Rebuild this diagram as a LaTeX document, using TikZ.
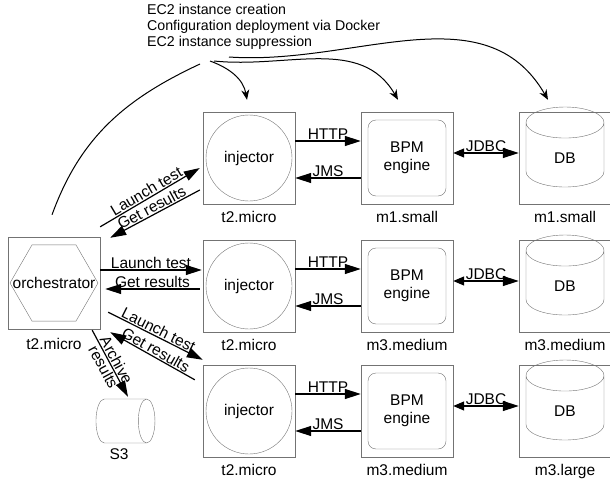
\documentclass[tikz,border=0pt]{standalone}
\usepackage{fontspec}
\setmainfont{Liberation Sans}
\usetikzlibrary{shapes.geometric, arrows.meta, calc}
\definecolor{shapegray}{gray}{0.45}

\begin{document}
\begin{tikzpicture}[x=1pt, y=1pt, node distance={158pt}, font=\fontsize{15.5}{18}\selectfont,
  box/.style = {draw=shapegray, minimum size=92pt, inner sep=0pt},
  inst/.style = {label={[label distance=4pt]below:#1}},
  inj/.style = {draw=shapegray, circle, minimum size=86pt},
  bpm/.style = {draw=shapegray, rounded corners=8pt, minimum width=78pt, minimum height=76pt, align=center},
  db/.style = {draw=shapegray, cylinder, shape border rotate=90, aspect=1.1, minimum width=78pt, minimum height=80pt},
  hex/.style = {draw=shapegray, regular polygon, regular polygon sides=6, minimum size=88pt},
  msg/.style = {-{Triangle[length=16pt,width=10pt]}, line width=1.2pt},
  msgback/.style = {{Triangle[length=16pt,width=10pt]}-, line width=1.2pt},
  ops/.style = {-{Stealth[length=10pt,width=8pt]}, line width=1pt},
  lbl/.style = {inner sep=1pt}]
      \useasboundingbox (0,0) rectangle (610,-487);

      % instances
      \node[box, inst=t2.micro] (i1) at (249,-158) {};
      \node[inj] (i1c) at (i1) {injector};
      \node[box, inst=m1.small] (b1) [right of=i1] {};
      \node[bpm] (b1c) at (b1) {BPM\\engine};
      \node[box, inst=m1.small] (d1) [right of=b1] {};
      \node[db] (d1c) at (d1) {DB};

      \node[box, inst=t2.micro] (i2) [below of=i1, node distance=128pt] {};
      \node[inj] (i2c) at (i2) {injector};
      \node[box, inst=m3.medium] (b2) [right of=i2] {};
      \node[bpm] (b2c) at (b2) {BPM\\engine};
      \node[box, inst=m3.medium] (d2) [right of=b2] {};
      \node[db] (d2c) at (d2) {DB};

      \node[box, inst=t2.micro] (i3) [below of=i2, node distance=125pt] {};
      \node[inj] (i3c) at (i3) {injector};
      \node[box, inst=m3.medium] (b3) [right of=i3] {};
      \node[bpm] (b3c) at (b3) {BPM\\engine};
      \node[box, inst=m3.large] (d3) [right of=b3] {};
      \node[db] (d3c) at (d3) {DB};

      \node[box, label={[label distance=6pt]below:t2.micro}] (o) [left of=i2, node distance=195pt, yshift=3pt] {orchestrator};
      \node[hex] (oc) at (o) {};
      \node[draw=shapegray, cylinder, aspect=2.5, minimum width=44pt, minimum height=59pt,
            label={[label distance=2pt]below:S3}] (s3) at (119,-421) {};

      \node[align=left, anchor=north west, inner sep=0pt, font=\fontsize{14.2}{16}\selectfont] (txt) at (147,-4)
        {EC2 instance creation\\Configuration deployment via Docker\\EC2 instance suppression};
      \coordinate (c0) at (200,-64);
      \coordinate (c1) at (210,-61);
      \coordinate (c2) at (214,-61);
      \coordinate (c3) at (229,-57);

      % provisioning
      \draw[line width=1pt] (c0) to[out=205, in=70] ([xshift=-2pt,yshift=22pt]o.north);
      \draw[ops] (c1) to[out=-20, in=100] ([xshift=-2pt,yshift=12pt]i1.north);
      \draw[ops] (c2) to[out=-6, in=120] ([xshift=-9pt,yshift=12pt]b1.north);
      \draw[ops] (c3) to[out=-4, in=120] ([xshift=-17pt,yshift=12pt]d1.north);

      % injector <-> BPM <-> DB
      \foreach \r in {1,2,3} {
        \draw[msg] ([yshift=17pt]i\r.east) -- node[lbl, above] {HTTP} ([yshift=17pt]b\r.west);
        \draw[msgback] ([yshift=-20pt]i\r.east) -- node[lbl, above] {JMS} ([yshift=-20pt]b\r.west);
        \draw[{Triangle[length=11pt,width=9pt]}-{Triangle[length=16pt,width=10pt]}, line width=1.2pt]
          ([yshift=5pt]b\r.east) -- node[lbl, above] {JDBC} ([yshift=5pt]d\r.west);
      }

      % orchestrator <-> injectors
      \draw[msg] ([yshift=10pt]o.north east) -- node[lbl, above, sloped] {Launch test} ([xshift=-3pt,yshift=-10pt]i1.west);
      \draw[msgback] ([xshift=10pt,yshift=-1pt]o.north east) -- node[lbl, above, sloped] {Get results} ([xshift=-3pt,yshift=-32pt]i1.west);
      \draw[msg] ($(o.east |- i2.west)+(0,16)$) -- node[lbl, above] {Launch test} ([xshift=-1pt,yshift=16pt]i2.west);
      \draw[msgback] ($(o.east |- i2.west)+(5,-3)$) -- node[lbl, above] {Get results} ([xshift=-3pt,yshift=-3pt]i2.west);
      \draw[msg] ([xshift=8pt,yshift=17pt]o.south east) -- node[lbl, above, sloped] {Launch test} ([yshift=5pt]i3.north west);
      \draw[msgback] ([xshift=10pt,yshift=-3pt]o.south east) -- node[lbl, above, sloped] {Get results} ([xshift=-8pt,yshift=-15pt]i3.north west);

      % archive
      \draw[msg] ([xshift=-8pt,yshift=-1pt]o.south east) -- node[lbl, above, sloped] {Archive} node[lbl, below, sloped] {results} ([xshift=9pt,yshift=2pt]s3.north);
    \end{tikzpicture}
\end{document}
